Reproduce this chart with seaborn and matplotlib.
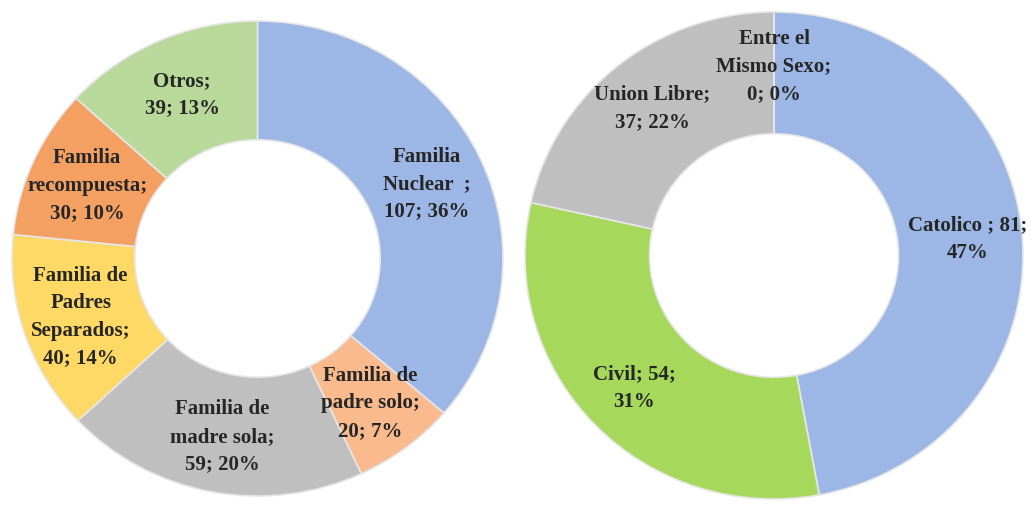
import numpy as np
import matplotlib
matplotlib.use("Agg")
import matplotlib.pyplot as plt
import seaborn as sns

# Left donut: family type
fam_labels = ["Familia\nNuclear  ;", "Familia de\npadre solo;", "Familia de\nmadre sola;",
              "Familia de\nPadres\nSeparados;", "Familia\nrecompuesta;", "Otros;"]
fam_values = [107, 20, 59, 40, 30, 39]
fam_colors = ["#9cb7e6", "#f9bb8e", "#bfbfbf", "#ffd966", "#f4a063", "#b8d99a"]

# Right donut: union type
union_labels = ["Catolico ; 81;", "Civil; 54;", "Union Libre;", "Entre el\nMismo Sexo;"]
union_values = [81, 54, 37, 0]
union_text = ["47%", "31%", "37; 22%", "0; 0%"]
union_colors = ["#9cb7e6", "#a6d95b", "#bfbfbf", "#9cb7e6"]

sns.set_theme(style="white")
plt.rcParams['font.family'] = ['Liberation Serif', 'DejaVu Serif']

W, H = 1033, 506
fig = plt.figure(figsize=(W / 100, H / 100), dpi=100)
fig.patch.set_facecolor("white")


def donut(rect, values, colors, texts, dist):
    ax = fig.add_axes(rect)
    wedges, _ = ax.pie(values, colors=colors, startangle=90, counterclock=False,
                       radius=1.0, wedgeprops=dict(width=0.5, edgecolor="#e6e6e6", linewidth=1.2))
    for w, t in zip(wedges, texts):
        ang = np.deg2rad((w.theta1 + w.theta2) / 2)
        ax.text(dist * np.cos(ang), dist * np.sin(ang), t, ha="center", va="center",
                multialignment="center", fontsize=15, fontweight="bold", color="#262626",
                linespacing=1.5)
    ax.set_aspect("auto")
    ax.set_xlim(-1, 1)
    ax.set_ylim(-1, 1)
    ax.axis("off")
    return ax


fam_total = sum(fam_values)
fam_texts = [f"{l}\n{v}; {round(100 * v / fam_total)}%" for l, v in zip(fam_labels, fam_values)]
donut([12 / W, (H - 497) / H, 491 / W, 475 / H], fam_values, fam_colors, fam_texts, 0.76)

union_texts = [f"{l}\n{t}" for l, t in zip(union_labels, union_text)]
donut([525 / W, (H - 500) / H, 498 / W, 487 / H], union_values, union_colors, union_texts, 0.78)

fig.savefig("out.png", dpi=100, facecolor="white")
